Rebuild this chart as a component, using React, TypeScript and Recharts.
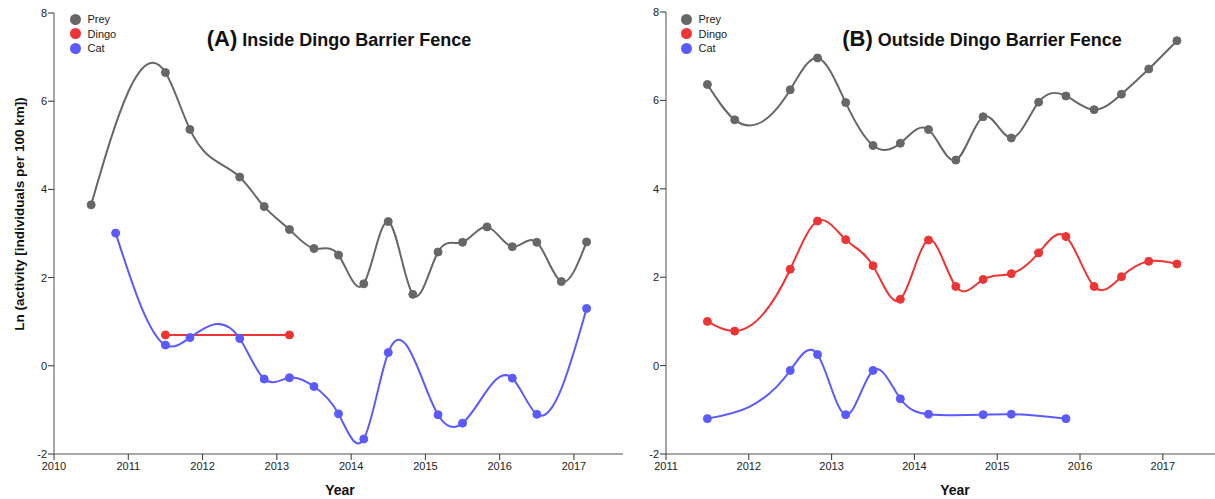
import React from 'react';
import { LineChart, Line, XAxis, YAxis } from 'recharts';

// years of each survey
const insidePreyYears = [2010.5, 2011.5, 2011.83, 2012.5, 2012.83, 2013.17, 2013.5, 2013.83, 2014.17, 2014.5, 2014.83, 2015.17, 2015.5, 2015.83, 2016.17, 2016.5, 2016.83, 2017.17];
const insidePrey = [3.65, 6.65, 5.36, 4.28, 3.61, 3.09, 2.66, 2.51, 1.86, 3.27, 1.62, 2.58, 2.8, 3.15, 2.7, 2.8, 1.91, 2.81];
const insideDingoYears = [2011.5, 2013.17];
const insideDingo = [0.7, 0.7];
const insideCatYears = [2010.83, 2011.5, 2011.83, 2012.5, 2012.83, 2013.17, 2013.5, 2013.83, 2014.17, 2014.5, 2015.17, 2015.5, 2016.17, 2016.5, 2017.17];
const insideCat = [3.01, 0.47, 0.64, 0.62, -0.3, -0.27, -0.47, -1.09, -1.66, 0.3, -1.11, -1.3, -0.28, -1.1, 1.3];

const outsidePreyYears = [2011.5, 2011.83, 2012.5, 2012.83, 2013.17, 2013.5, 2013.83, 2014.17, 2014.5, 2014.83, 2015.17, 2015.5, 2015.83, 2016.17, 2016.5, 2016.83, 2017.17];
const outsidePrey = [6.36, 5.56, 6.24, 6.96, 5.95, 4.98, 5.03, 5.34, 4.65, 5.63, 5.15, 5.96, 6.1, 5.79, 6.14, 6.71, 7.35];
const outsideDingoYears = outsidePreyYears;
const outsideDingo = [1.0, 0.78, 2.18, 3.27, 2.85, 2.26, 1.5, 2.84, 1.79, 1.95, 2.08, 2.55, 2.92, 1.79, 2.01, 2.36, 2.3];
const outsideCatYears = [2011.5, 2012.5, 2012.83, 2013.17, 2013.5, 2013.83, 2014.17, 2014.83, 2015.17, 2015.83];
const outsideCat = [-1.2, -0.11, 0.25, -1.11, -0.11, -0.75, -1.1, -1.11, -1.1, -1.2];

const yTicks = [-2, 0, 2, 4, 6, 8];
const insideXTicks = [2010, 2011, 2012, 2013, 2014, 2015, 2016, 2017];
const outsideXTicks = [2011, 2012, 2013, 2014, 2015, 2016, 2017];

const PREY = '#676767';
const DINGO = '#ee3535';
const CAT = '#5a5aff';
const FONT = '"Liberation Sans", Arial, sans-serif';

// natural cubic spline with y as a function of x (not per point index)
function splineX(context: any) {
  let xs: number[] = [];
  let ys: number[] = [];
  return {
    areaStart() {},
    areaEnd() {},
    lineStart() {
      xs = [];
      ys = [];
    },
    point(x: number, y: number) {
      xs.push(+x);
      ys.push(+y);
    },
    lineEnd() {
      const n = xs.length;
      if (!n) return;
      context.moveTo(xs[0], ys[0]);
      if (n === 1) return;
      if (n === 2) {
        context.lineTo(xs[1], ys[1]);
        return;
      }
      const h: number[] = [];
      for (let i = 0; i < n - 1; i++) h[i] = xs[i + 1] - xs[i];
      const M = new Array(n).fill(0);
      const cp: number[] = [];
      const rp: number[] = [];
      for (let i = 1; i < n - 1; i++) {
        const a = h[i - 1];
        const b = 2 * (h[i - 1] + h[i]);
        const c = h[i];
        const r = 6 * ((ys[i + 1] - ys[i]) / h[i] - (ys[i] - ys[i - 1]) / h[i - 1]);
        const m = b - (i > 1 ? a * cp[i - 1] : 0);
        cp[i] = c / m;
        rp[i] = (r - (i > 1 ? a * rp[i - 1] : 0)) / m;
      }
      for (let i = n - 2; i >= 1; i--) M[i] = rp[i] - cp[i] * M[i + 1];
      for (let i = 0; i < n - 1; i++) {
        const hi = h[i];
        const s = (ys[i + 1] - ys[i]) / hi;
        const d0 = s - (hi * (2 * M[i] + M[i + 1])) / 6;
        const d1 = s + (hi * (M[i] + 2 * M[i + 1])) / 6;
        context.bezierCurveTo(xs[i] + hi / 3, ys[i] + (d0 * hi) / 3, xs[i + 1] - hi / 3, ys[i + 1] - (d1 * hi) / 3, xs[i + 1], ys[i + 1]);
      }
    },
  };
}

const toRows = (xs: number[], ys: number[]) => xs.map((year, i) => ({ year, v: ys[i] }));

const series = (label: string, color: string, xs: number[], ys: number[]) => (
  <Line
    key={label}
    name={label}
    data={toRows(xs, ys)}
    dataKey="v"
    type={splineX as any}
    stroke={color}
    strokeWidth={2}
    dot={{ r: 4, fill: color, stroke: color, strokeWidth: 1 }}
    activeDot={false}
    isAnimationActive={false}
  />
);

const legendRows = [
  { label: 'Prey', color: PREY },
  { label: 'Dingo', color: DINGO },
  { label: 'Cat', color: CAT },
];

const LegendBox = ({ x }: { x: number }) => (
  <div style={{ position: 'absolute', left: x - 5.5, top: 12, fontFamily: FONT, fontSize: 11, color: '#222', lineHeight: '14.5px' }}>
    {legendRows.map((r) => (
      <div key={r.label} style={{ display: 'flex', alignItems: 'center' }}>
        <span style={{ width: 11, height: 11, borderRadius: '50%', background: r.color, display: 'inline-block', marginRight: 7 }} />
        {r.label}
      </div>
    ))}
  </div>
);

const tickStyle = { fontSize: 11, fill: '#222', fontFamily: FONT };

type PanelProps = {
  left: number;
  width: number;
  top: number;
  xDomain: [number, number];
  xTicks: number[];
  yearX: number;
  showYLabel: boolean;
  children: React.ReactNode;
};

function Panel({ left, width, top, xDomain, xTicks, yearX, showYLabel, children }: PanelProps) {
  return (
    <div style={{ position: 'absolute', left, top: 0 }}>
      <LineChart width={width} height={499} margin={{ top, right: 0, bottom: 0, left: 0 }}>
        <XAxis
          dataKey="year"
          type="number"
          domain={xDomain}
          ticks={xTicks}
          allowDuplicatedCategory={false}
          height={499 - 454}
          axisLine={{ stroke: '#8a8a8a', strokeWidth: 1.5 }}
          tickLine={{ stroke: '#333' }}
          tickSize={6}
          tick={tickStyle}
          label={{
            content: () => (
              <text x={yearX - left} y={495} textAnchor="middle" fontFamily={FONT} fontWeight="bold" fontSize={14} fill="#111">
                Year
              </text>
            ),
          }}
        />
        <YAxis
          type="number"
          domain={[-2, 8]}
          ticks={yTicks}
          width={54}
          axisLine={{ stroke: '#8a8a8a', strokeWidth: 1.5 }}
          tickLine={{ stroke: '#333' }}
          tickSize={6}
          tickMargin={1}
          tick={tickStyle}
          label={
            showYLabel
              ? {
                  content: () => (
                    <text
                      x={20}
                      y={214}
                      transform="rotate(-90, 20, 214)"
                      textAnchor="middle"
                      dominantBaseline="middle"
                      fontFamily={FONT}
                      fontWeight="bold"
                      fontSize={13.5}
                      fill="#111"
                    >
                      Ln (activity [individuals per 100 km])
                    </text>
                  ),
                }
              : undefined
          }
        />
        {children}
      </LineChart>
    </div>
  );
}

const Title = ({ tag, text, cx }: { tag: string; text: string; cx: number }) => (
  <div
    style={{
      position: 'absolute',
      left: cx - 200,
      width: 400,
      top: 26,
      textAlign: 'center',
      fontFamily: FONT,
      fontWeight: 'bold',
      fontSize: 18,
      color: '#111',
      whiteSpace: 'nowrap',
      lineHeight: '26px',
    }}
  >
    <span style={{ fontSize: 22 }}>{tag}</span> {text}
  </div>
);

export default function App() {
  return (
    <div style={{ position: 'absolute', left: 0, top: 0, width: 1215, height: 499, background: '#fff', overflow: 'hidden' }}>
      <Panel left={0} width={623} top={13} xDomain={[2010, 2017.66]} xTicks={insideXTicks} yearX={340} showYLabel>
        {series('Prey', PREY, insidePreyYears, insidePrey)}
        {series('Dingo', DINGO, insideDingoYears, insideDingo)}
        {series('Cat', CAT, insideCatYears, insideCat)}
      </Panel>
      <Panel left={612} width={603} top={12} xDomain={[2011, 2017.63]} xTicks={outsideXTicks} yearX={955} showYLabel={false}>
        {series('Prey', PREY, outsidePreyYears, outsidePrey)}
        {series('Dingo', DINGO, outsideDingoYears, outsideDingo)}
        {series('Cat', CAT, outsideCatYears, outsideCat)}
      </Panel>
      <LegendBox x={75} />
      <LegendBox x={686} />
      <Title tag="(A)" text="Inside Dingo Barrier Fence" cx={339} />
      <Title tag="(B)" text="Outside Dingo Barrier Fence" cx={982} />
    </div>
  );
}
